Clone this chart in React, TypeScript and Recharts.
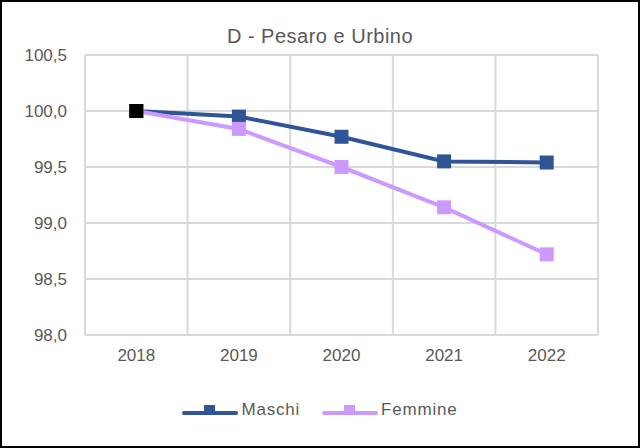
import { CartesianGrid, Line, LineChart, XAxis, YAxis } from "recharts";

const years = ["2018", "2019", "2020", "2021", "2022"];
const maschi = [100.0, 99.95, 99.77, 99.55, 99.54];
const femmine = [100.0, 99.84, 99.5, 99.14, 98.72];
const yTicks = [98.0, 98.5, 99.0, 99.5, 100.0, 100.5];

const data = years.map((year, i) => ({ year, maschi: maschi[i], femmine: femmine[i] }));

const BLUE = "#2F5597";
const LILAC = "#CC99FF";
const TEXT = "#595959";
const FONT = "'Liberation Sans', Arial, sans-serif";

function SquareDot(props: any) {
  const { cx, cy, index, fill, first } = props;
  if (cx == null || cy == null) return null;
  const color = first && index === 0 ? "#000000" : fill;
  return <rect x={cx - 7} y={cy - 7} width={14} height={14} fill={color} />;
}

function LegendBox() {
  const items = [
    { label: "Maschi", color: BLUE },
    { label: "Femmine", color: LILAC },
  ];
  return (
    <div
      style={{
        position: "absolute",
        top: 398,
        left: 0,
        width: "100%",
        display: "flex",
        justifyContent: "center",
        gap: 22,
        fontFamily: FONT,
        fontSize: 17,
        letterSpacing: 0.8,
        color: TEXT,
      }}
    >
      {items.map((it) => (
        <div key={it.label} style={{ display: "flex", alignItems: "center", gap: 3 }}>
          <svg width={56} height={16}>
            <line x1={2} y1={11} x2={54} y2={11} stroke={it.color} strokeWidth={4} strokeLinecap="round" />
            <rect x={22} y={3} width={11} height={10} fill={it.color} />
          </svg>
          <span>{it.label}</span>
        </div>
      ))}
    </div>
  );
}

export default function App() {
  return (
    <div
      style={{
        position: "fixed",
        left: 0,
        top: 0,
        width: 640,
        height: 448,
        boxSizing: "border-box",
        border: "2px solid #000",
        background: "#fff",
      }}
    >
      <div
        style={{
          position: "absolute",
          top: 23,
          width: "100%",
          textAlign: "center",
          fontFamily: FONT,
          fontSize: 20,
          letterSpacing: 0.5,
          color: TEXT,
        }}
      >
        D - Pesaro e Urbino
      </div>
      <LineChart
        width={636}
        height={444}
        data={data}
        margin={{ top: 53, right: 40, left: 0, bottom: 78 }}
        style={{ fontFamily: FONT }}
      >
        <CartesianGrid
          stroke="#d9d9d9"
          strokeWidth={2}
          verticalCoordinatesGenerator={({ offset }: any) =>
            years.concat([""]).map((_, i) => offset.left + (i * offset.width) / years.length)
          }
        />
        <XAxis
          dataKey="year"
          scale="band"
          axisLine={false}
          tickLine={false}
          tick={{ fontSize: 17, fill: TEXT }}
          tickMargin={8}
          height={33}
        />
        <YAxis
          domain={[98, 100.5]}
          ticks={yTicks}
          axisLine={false}
          tickLine={false}
          tick={{ fontSize: 17, fill: TEXT }}
          tickFormatter={(v) => Number(v).toFixed(1).replace(".", ",")}
          tickMargin={12}
          width={83}
        />
        <Line
          dataKey="maschi"
          name="Maschi"
          stroke={BLUE}
          strokeWidth={4}
          dot={<SquareDot fill={BLUE} />}
          activeDot={false}
          isAnimationActive={false}
        />
        <Line
          dataKey="femmine"
          name="Femmine"
          stroke={LILAC}
          strokeWidth={4}
          dot={<SquareDot fill={LILAC} first />}
          activeDot={false}
          isAnimationActive={false}
        />
      </LineChart>
      <LegendBox />
    </div>
  );
}
